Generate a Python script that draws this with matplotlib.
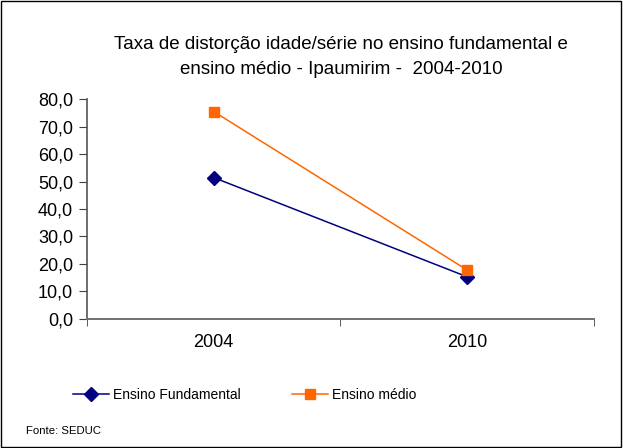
import matplotlib
matplotlib.use("Agg")
import matplotlib.pyplot as plt
from matplotlib.patches import Rectangle

plt.rcParams['font.family'] = ['Liberation Sans', 'DejaVu Sans']

categories = ["2004", "2010"]
fundamental = [51.5, 15.3]
medio = [75.6, 17.8]
yticks = [0, 10, 20, 30, 40, 50, 60, 70, 80]
title = "Taxa de distorção idade/série no ensino fundamental e\nensino médio - Ipaumirim -  2004-2010"

fig = plt.figure(figsize=(6.23, 4.48), dpi=100)
fig.patches.append(Rectangle((0.002, 0.002), 0.995, 0.995, transform=fig.transFigure,
                             fill=False, edgecolor='black', linewidth=1.0))
ax = fig.add_axes([0.1396, 0.2886, 0.8134, 0.4894])

x = list(range(len(categories)))
l1, = ax.plot(x, fundamental, color='#000080', marker='D', markersize=7, linewidth=1.1,
              label='Ensino Fundamental')
l2, = ax.plot(x, medio, color='#FF6600', marker='s', markersize=7.3, linewidth=1.1,
              label='Ensino médio')

ax.set_xlim(-0.5, len(categories) - 0.5)
ax.set_ylim(0, 80)
ax.set_yticks(yticks)
ax.set_yticklabels([f"{v:.1f}".replace('.', ',') for v in yticks], fontsize=13)
ax.set_xticks(x)
ax.set_xticklabels(categories, fontsize=13)
ax.tick_params(axis='x', which='major', length=0, pad=11)
ax.set_xticks([i - 0.5 for i in range(len(categories) + 1)], minor=True)
ax.tick_params(axis='x', which='minor', length=5, direction='out', color='#404040')
ax.tick_params(axis='y', length=6, direction='out', color='#404040', pad=4)

for s in ['top', 'right']:
    ax.spines[s].set_visible(False)
ax.spines['left'].set_color('#555555')
ax.spines['bottom'].set_color('#707070')
ax.spines['left'].set_linewidth(1.2)
ax.spines['bottom'].set_linewidth(1.4)

fig.text(0.548, 0.872, title, ha='center', va='center', fontsize=13.5, linespacing=1.6)

fig.legend(handles=[l1, l2], loc='center', bbox_to_anchor=(0.393, 0.118), ncol=2,
           frameon=False, fontsize=10, handlelength=2.6, columnspacing=3.7,
           handletextpad=0.3)

fig.text(0.042, 0.038, "Fonte: SEDUC", fontsize=8.2, ha='left', va='center')

fig.savefig("out.png", dpi=100)
